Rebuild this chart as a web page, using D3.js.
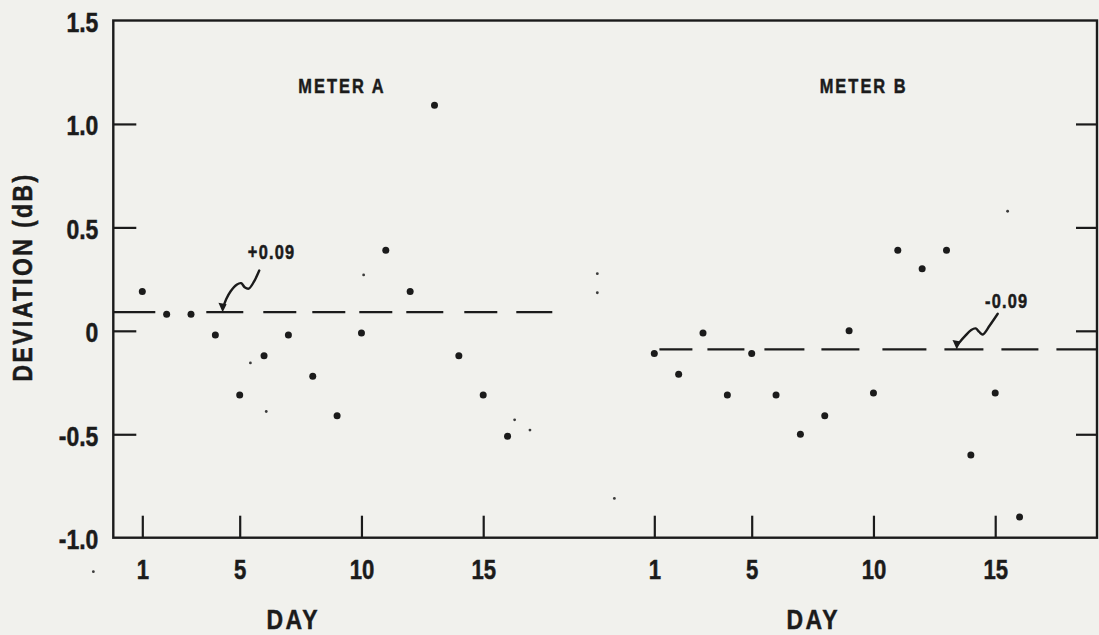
<!DOCTYPE html>
<html>
<head>
<meta charset="utf-8">
<script src="https://cdn.jsdelivr.net/npm/d3@7"></script>
<style>
  html, body { margin: 0; padding: 0; background: #f1f1ed; }
  svg { display: block; }
  text { font-family: "Liberation Sans", Arial, sans-serif; font-weight: bold; fill: #1b1b1b; stroke: #1b1b1b; stroke-width: 0.5px; }
</style>
</head>
<body>
<svg id="chart" width="1099" height="635"></svg>
<script>
// Daily deviation readings, two meters, days 1..16
const days = [1, 2, 3, 4, 5, 6, 7, 8, 9, 10, 11, 12, 13, 14, 15, 16];
const meterA = [0.19, 0.08, 0.08, -0.02, -0.31, -0.12, -0.02, -0.22, -0.41, -0.01, 0.39, 0.19, 1.09, -0.12, -0.31, -0.51];
const meterB = [-0.11, -0.21, -0.01, -0.31, -0.11, -0.31, -0.50, -0.41, 0.00, -0.30, 0.39, 0.30, 0.39, -0.60, -0.30, -0.90];
const meanA = 0.09;
const meanB = -0.09;
const meanLabels = ["+0.09", "-0.09"];
const panelTitles = ["METER A", "METER B"];

// Stray specks printed on the sheet: [day, deviation]
const specksA = [[5.44, -0.155], [6.09, -0.39], [10.09, 0.27], [16.29, -0.43], [16.92, -0.48], [-1.01, -1.164]];
const specksB = [[-1.34, 0.276], [-1.34, 0.184], [-0.64, -0.81], [15.51, 0.578]];

const dayTicks = [1, 5, 10, 15];
const devTicks = [-1.0, -0.5, 0, 0.5, 1.0, 1.5];
const innerDevTicks = [-0.5, 0, 0.5, 1.0];

const ink = "#1b1b1b";
const narrow = 0.82;   // horizontal squeeze giving the lettering its condensed look
const svg = d3.select("#chart");

const frame = { left: 113.3, right: 1097, top: 20.5, bottom: 537.7 };

const y = d3.scaleLinear().domain([-1, 1.5]).range([frame.bottom, frame.top]);
const xA = d3.scaleLinear().domain([1, 15]).range([142.3, 483.2]);
const xB = d3.scaleLinear().domain([1, 15]).range([654.3, 995.2]);

const fmt = d => d === 0 ? "0" : (d < 0 ? "-" : "") + Math.abs(d).toFixed(1);

// Squeeze text horizontally about its own anchor point
function condense(sel) {
  sel.each(function () {
    const t = d3.select(this);
    const x = +t.attr("x") || 0;
    const tr = t.attr("transform") || "";
    t.attr("transform", `${tr} translate(${x},0) scale(${narrow},1) translate(${-x},0)`);
  });
}

// Frame
svg.append("rect")
  .attr("x", frame.left).attr("y", frame.top)
  .attr("width", frame.right - frame.left).attr("height", frame.bottom - frame.top)
  .attr("fill", "none").attr("stroke", ink).attr("stroke-width", 2.4);

// Left deviation axis (labels + inward ticks)
const leftAxis = svg.append("g")
  .attr("transform", `translate(${frame.left},0)`)
  .call(d3.axisLeft(y).tickValues(devTicks).tickFormat(fmt).tickSizeInner(-23).tickSizeOuter(0).tickPadding(15));
leftAxis.select(".domain").remove();
leftAxis.selectAll(".tick line").attr("stroke", ink).attr("stroke-width", 2.2)
  .filter(d => !innerDevTicks.includes(d)).remove();
leftAxis.selectAll(".tick text").attr("font-size", 28).attr("dy", "0.39em")
  .attr("font-family", null).attr("fill", ink).call(condense);

// Right side inward ticks
const rightAxis = svg.append("g")
  .attr("transform", `translate(${frame.right},0)`)
  .call(d3.axisRight(y).tickValues(innerDevTicks).tickFormat("").tickSizeInner(-21).tickSizeOuter(0));
rightAxis.select(".domain").remove();
rightAxis.selectAll(".tick line").attr("stroke", ink).attr("stroke-width", 2.2);

// Day axes for both panels
[xA, xB].forEach(xs => {
  const g = svg.append("g")
    .attr("transform", `translate(0,${frame.bottom})`)
    .call(d3.axisBottom(xs).tickValues(dayTicks).tickSizeInner(-22).tickSizeOuter(0).tickPadding(22));
  g.select(".domain").remove();
  g.selectAll(".tick line").attr("stroke", ink).attr("stroke-width", 2.2);
  g.selectAll(".tick text").attr("font-size", 27).attr("font-family", null).attr("fill", ink).call(condense);
});

// Axis titles
svg.append("text")
  .attr("transform", `translate(32,277) rotate(-90)`)
  .attr("text-anchor", "middle")
  .attr("font-size", 28).attr("letter-spacing", 2.9)
  .text("DEVIATION (dB)")
  .call(condense);

[[xA, 7.2], [xB, 7.53]].forEach(([xs, d]) => {
  svg.append("text")
    .attr("x", xs(d)).attr("y", 629)
    .attr("text-anchor", "middle")
    .attr("font-size", 28).attr("letter-spacing", 2.9)
    .text("DAY")
    .call(condense);
});

// Panel titles
[[xA, 9.2], [xB, 9.6]].forEach(([xs, d], i) => {
  svg.append("text")
    .attr("x", xs(d)).attr("y", 93)
    .attr("text-anchor", "middle")
    .attr("font-size", 20).attr("letter-spacing", 2.5)
    .text(panelTitles[i])
    .call(condense);
});

// Mean lines (long dashes)
svg.append("line")
  .attr("x1", frame.left).attr("x2", xA(17.86))
  .attr("y1", y(meanA)).attr("y2", y(meanA))
  .attr("stroke", ink).attr("stroke-width", 2.3)
  .attr("stroke-dasharray", "42,51,37,20,33,16,33,14,33,14,37,21,33,19,36,40");

svg.append("line")
  .attr("x1", xB(1.21)).attr("x2", frame.right)
  .attr("y1", y(meanB)).attr("y2", y(meanB))
  .attr("stroke", ink).attr("stroke-width", 2.3)
  .attr("stroke-dasharray", "33,15,37,20,40,17,38,23,44,18,39,18,37,18,40,40");

// Data points
function drawPoints(xs, values) {
  svg.append("g").selectAll("circle")
    .data(values.map((v, i) => [days[i], v]))
    .join("circle")
    .attr("cx", d => xs(d[0])).attr("cy", d => y(d[1]))
    .attr("r", 3.5).attr("fill", ink);
}
drawPoints(xA, meterA);
drawPoints(xB, meterB);

function drawSpecks(xs, specks) {
  svg.append("g").selectAll("circle")
    .data(specks)
    .join("circle")
    .attr("cx", d => xs(d[0])).attr("cy", d => y(d[1]))
    .attr("r", 1.4).attr("fill", ink).attr("opacity", 0.85);
}
drawSpecks(xA, specksA);
drawSpecks(xB, specksB);

// Squiggle leaders pointing at each mean line
const squiggle = d3.line().curve(d3.curveCatmullRom.alpha(0.5));
function leader(tipX, tipY, pts, label, labelDx, labelDy) {
  const g = svg.append("g").attr("transform", `translate(${tipX},${tipY})`);
  g.append("path").attr("d", squiggle(pts))
    .attr("fill", "none").attr("stroke", ink).attr("stroke-width", 2.4)
    .attr("stroke-linecap", "round").attr("stroke-linejoin", "round");
  g.append("path").attr("d", "M0,0 L-4.2,-9.5 L4,-8 Z").attr("fill", ink);
  g.append("text")
    .attr("x", labelDx).attr("y", labelDy)
    .attr("text-anchor", "middle")
    .attr("font-size", 20).attr("letter-spacing", 1.5)
    .text(label)
    .call(condense);
}
leader(xA(4.30), y(meanA),
  [[36.6, -41.7], [31, -30], [26, -23.5], [22, -25], [18.5, -29], [14, -27.5], [8, -21], [3.5, -13], [1, -6]],
  meanLabels[0], 49, -53);
leader(xB(13.42), y(meanB),
  [[41, -35.7], [33, -24], [26, -15], [22.5, -17.5], [19, -21], [14.5, -19.5], [8, -13], [3.5, -8], [1, -5]],
  meanLabels[1], 50, -41);
</script>
</body>
</html>
